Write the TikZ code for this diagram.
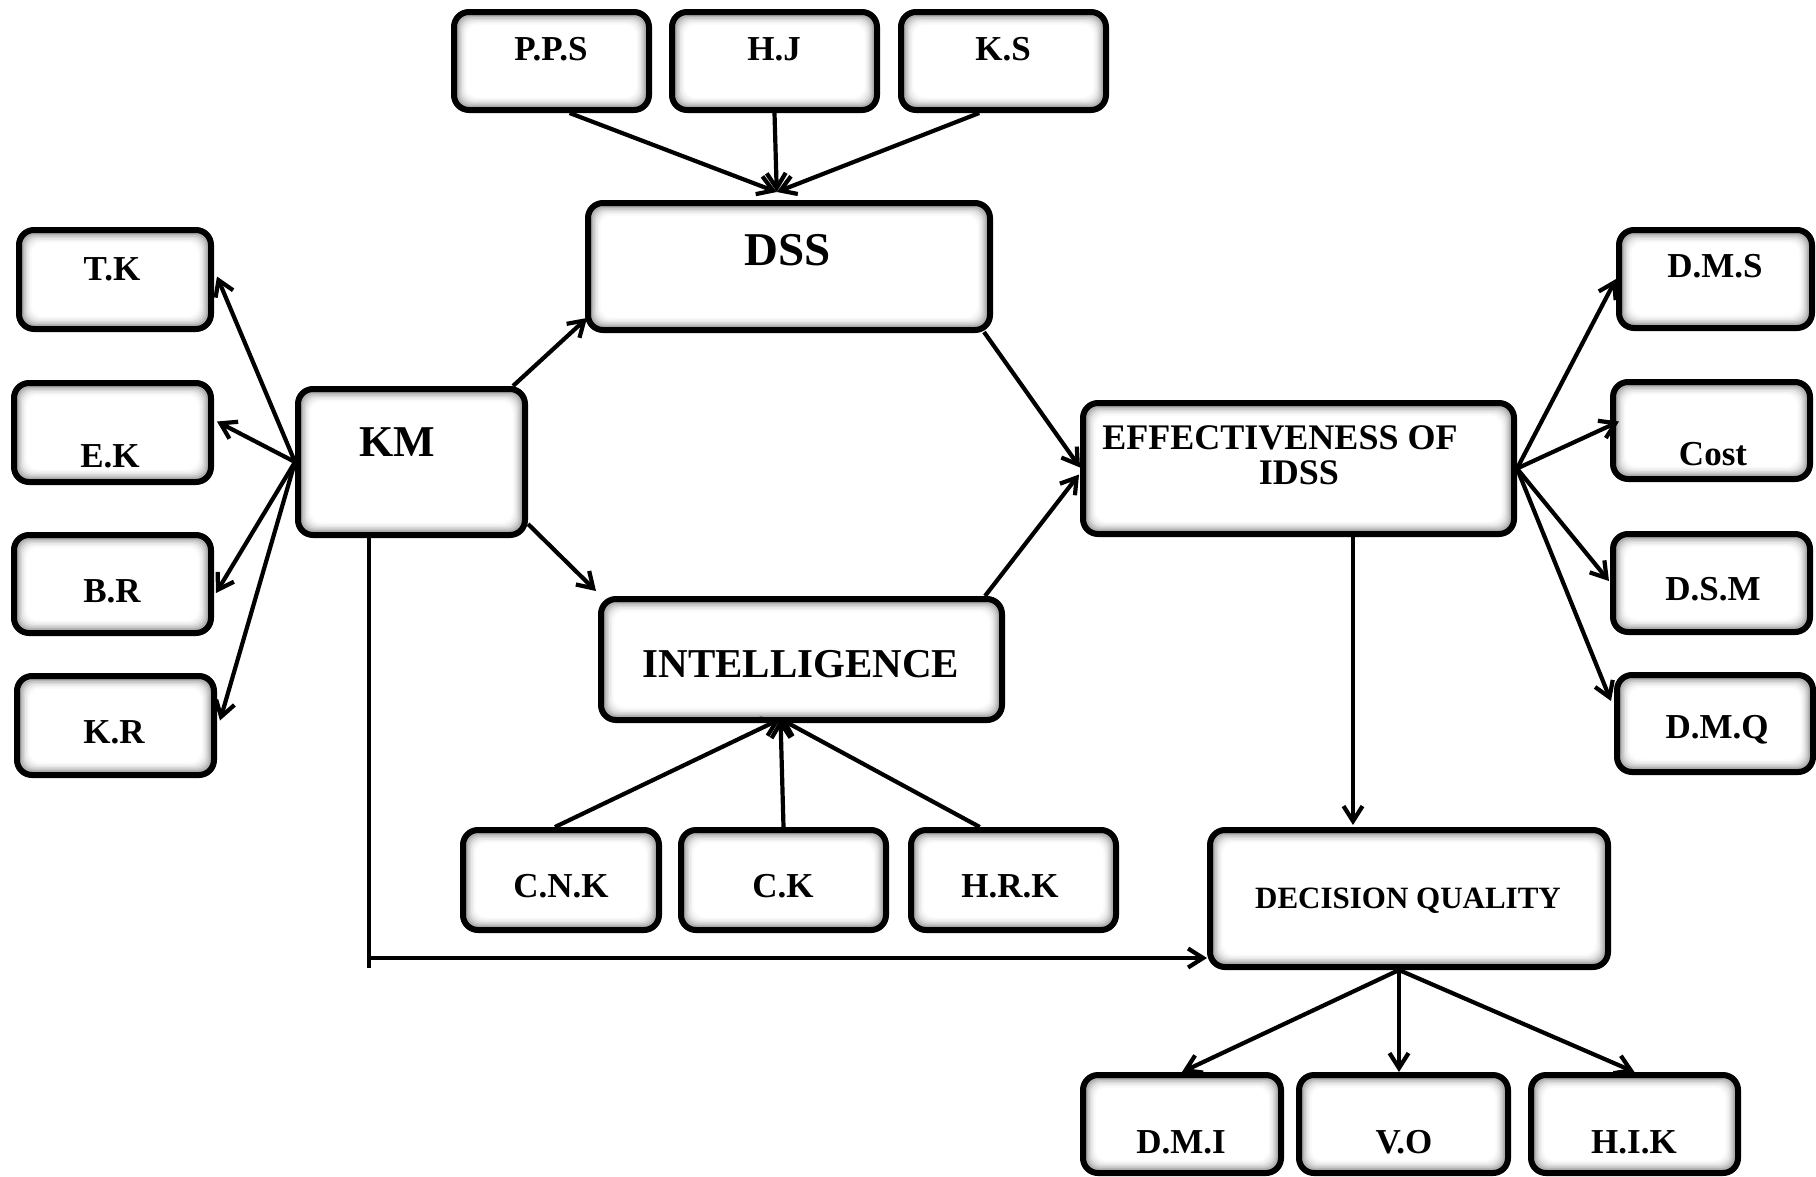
\documentclass[tikz,border=0pt]{standalone}
\usepackage{fontspec}
\setmainfont{Liberation Serif}
\usetikzlibrary{arrows.meta,calc}
\tikzset{
  box/.style={draw, line width=6pt, rounded corners=15pt, fill=black!45, inner sep=0pt,
    path picture={
      \foreach \k/\c in {2/38,3.5/30,5/22,6.5/15,8/9,9.5/5,11/2,12.5/0}{
        \fill[black!\c, rounded corners=11pt]
          ($(path picture bounding box.south west)+(\k pt,\k pt)$) rectangle
          ($(path picture bounding box.north east)-(\k pt,\k pt)$);
      }}},
  lbl/.style={font=\fontsize{35}{38}\selectfont\bfseries, inner sep=0pt},
  arr/.style={line width=4.2pt, -{Straight Barb[length=15pt,width=19pt]}},
  plain/.style={line width=4.2pt},
}
% box from its left/top and right/bottom edges (pixel units, y downwards)
\newcommand\mkbox[5]{\node[box, minimum width={(#4)-(#2)}, minimum height={(#5)-(#3)}] (#1) at ({((#2)+(#4))/2},{((#3)+(#5))/2}) {};}
\begin{document}
\begin{tikzpicture}[x=1pt,y=-1pt]
\useasboundingbox (0,0) rectangle (1816,1176);

% top inputs
\mkbox{pps}{454}{12}{649}{110}
\mkbox{hj}{672}{12}{877}{110}
\mkbox{ks}{901}{12}{1106}{110}
\node[lbl] (pps-l) at (551,49) {P.P.S};
\node[lbl] (hj-l) at (774,49) {H.J};
\node[lbl] (ks-l) at (1003,49) {K.S};

% core boxes
\mkbox{dss}{588}{203}{990}{330}
\node[lbl, font=\fontsize{47}{50}\selectfont\bfseries] (dss-l) at (788,250) {DSS};
\mkbox{km}{298}{389}{525}{535}
\node[lbl, font=\fontsize{44}{48}\selectfont\bfseries] (km-l) at (397,442) {KM};
\mkbox{int}{601}{599}{1002}{720}
\node[lbl, font=\fontsize{41}{44}\selectfont\bfseries] (int-l) at (801,664) {INTELLIGENCE};
\mkbox{eff}{1083}{403}{1514}{534}
\node[lbl, font=\fontsize{36}{38}\selectfont\bfseries] (eff-l1) at (1280,438) {EFFECTIVENESS OF};
\node[lbl, font=\fontsize{36}{38}\selectfont\bfseries] (eff-l2) at (1299,473) {IDSS};
\mkbox{dq}{1210}{830}{1608}{967}
\node[lbl, font=\fontsize{31}{34}\selectfont\bfseries] (dq-l) at (1408,901) {DECISION QUALITY};

% left group
\mkbox{tk}{19}{230}{211}{329}
\mkbox{ek}{14}{383}{211}{482}
\mkbox{br}{14}{535}{211}{633}
\mkbox{kr}{17}{676}{214}{775}
\node[lbl] (tk-l) at (112,269) {T.K};
\node[lbl] (ek-l) at (110,456) {E.K};
\node[lbl] (br-l) at (112,591) {B.R};
\node[lbl] (kr-l) at (114,732) {K.R};

% right group
\mkbox{dms}{1619}{230}{1812}{328}
\mkbox{cost}{1613}{382}{1810}{479}
\mkbox{dsm}{1613}{534}{1810}{632}
\mkbox{dmq}{1617}{675}{1813}{772}
\node[lbl] (dms-l) at (1715,266) {D.M.S};
\node[lbl] (cost-l) at (1713,454) {Cost};
\node[lbl] (dsm-l) at (1713,589) {D.S.M};
\node[lbl] (dmq-l) at (1717,730) {D.M.Q};

% inputs of intelligence
\mkbox{cnk}{463}{830}{659}{930}
\mkbox{ck}{681}{830}{886}{930}
\mkbox{hrk}{911}{830}{1116}{930}
\node[lbl] (cnk-l) at (561,886) {C.N.K};
\node[lbl] (ck-l) at (783,886) {C.K};
\node[lbl] (hrk-l) at (1010,886) {H.R.K};

% outputs of decision quality
\mkbox{dmi}{1083}{1075}{1281}{1173}
\mkbox{vo}{1299}{1075}{1508}{1173}
\mkbox{hik}{1531}{1075}{1738}{1173}
\node[lbl] (dmi-l) at (1181,1142) {D.M.I};
\node[lbl] (vo-l) at (1404,1142) {V.O};
\node[lbl] (hik-l) at (1634,1142) {H.I.K};

% meeting points
\coordinate (dssin) at ($(dss.north west)!0.47!(dss.north east)+(0,-8)$);
\coordinate (intin) at ($(int.south)+(-21,-4)$);
\coordinate (dqout) at ($(dq.south)+(-10,0)$);

% connectors into DSS
\draw[arr] ($(pps.south west)!0.59!(pps.south east)$) -- (dssin);
\draw[arr] (hj.south) -- (dssin);
\draw[arr] ($(ks.south west)!0.385!(ks.south east)$) -- (dssin);

% KM to the left boxes
\draw[arr] (km.west) -- ($(tk.east)+(3,-3)$);
\draw[arr] (km.west) -- ($(ek.east)+(3,-11)$);
\draw[arr] (km.west) -- ($(br.east)+(2,9)$);
\draw[arr] (km.west) -- ($(kr.east)+(3,-5)$);

% KM to DSS and INTELLIGENCE
\draw[arr] ($(km.north east)+(-15,0)$) -- ($(dss.south west)+(2,-15)$);
\draw[arr] ($(km.south east)+(0,-14)$) -- ($(int.north west)+(-2,-5)$);

% into effectiveness
\draw[arr] ($(dss.south east)+(-9,-1)$) -- ($(eff.west)+(0,-1)$);
\draw[arr] ($(int.north east)+(-20,0)$) -- ($(eff.west)+(-1,6)$);

% effectiveness to the right boxes
\draw[arr] (eff.east) -- (dms.west);
\draw[arr] (eff.east) -- ($(cost.west)+(9,-9)$);
\draw[arr] (eff.east) -- ($(dsm.west)+(-1,-2)$);
\draw[arr] (eff.east) -- ($(dmq.north west)+(-3,29)$);

% effectiveness to decision quality
\draw[arr] ($(eff.south west)+(273,0)$) -- ($(dq.north west)+(146,-2)$);

% KM directly to decision quality
\coordinate (kmtop) at ($(km.south west)+(74,0)$);
\coordinate (kmbend) at ($(kmtop)+(0,420)$);
\draw[plain] (kmtop) -- ($(kmbend)+(0,10)$);
\draw[arr] (kmbend) -- (kmbend -| dq.west);

% inputs of intelligence
\draw[arr] ($(cnk.north west)!0.47!(cnk.north east)$) -- (intin);
\draw[arr] (ck.north) -- (intin);
\draw[arr] ($(hrk.north west)!0.34!(hrk.north east)$) -- (intin);

% decision quality outputs
\draw[arr] (dqout) -- (dmi.north);
\draw[arr] (dqout) -- (vo.north -| dqout);
\draw[arr] (dqout) -- (hik.north);
\end{tikzpicture}
\end{document}
